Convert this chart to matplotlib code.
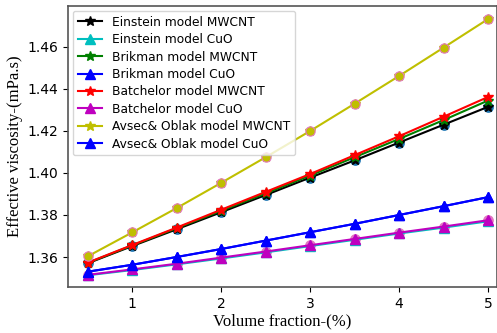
import numpy as np
import matplotlib.pyplot as plt

# volume fraction (%)
phi = [0.5, 1.0, 1.5, 2.0, 2.5, 3.0, 3.5, 4.0, 4.5, 5.0]

einstein_mwcnt = [1.3570, 1.3652, 1.3732, 1.3813, 1.3895, 1.3978, 1.4060, 1.4145, 1.4230, 1.4315]
einstein_cuo = [1.3513, 1.3538, 1.3565, 1.3593, 1.3622, 1.3652, 1.3682, 1.3712, 1.3740, 1.3770]
brinkman_mwcnt = [1.3572, 1.3655, 1.3737, 1.3820, 1.3903, 1.3988, 1.4075, 1.4162, 1.4252, 1.4345]
brinkman_cuo = [1.3530, 1.3563, 1.3600, 1.3638, 1.3678, 1.3718, 1.3758, 1.3800, 1.3842, 1.3885]
batchelor_mwcnt = [1.3573, 1.3657, 1.3740, 1.3825, 1.3910, 1.3995, 1.4085, 1.4175, 1.4268, 1.4362]
batchelor_cuo = [1.3515, 1.3541, 1.3568, 1.3597, 1.3626, 1.3656, 1.3686, 1.3716, 1.3745, 1.3775]
avsec_mwcnt = [1.3603, 1.3717, 1.3833, 1.3953, 1.4075, 1.4200, 1.4330, 1.4462, 1.4597, 1.4733]
avsec_cuo = [1.3530, 1.3563, 1.3600, 1.3638, 1.3678, 1.3718, 1.3758, 1.3800, 1.3842, 1.3885]

fig = plt.figure(figsize=(4.97, 3.33), dpi=100)
ax = fig.add_axes([0.137, 0.138, 0.863, 0.844])

# data points under the model curves
ax.scatter(phi, einstein_mwcnt, s=45, c='tab:blue', zorder=1)
ax.scatter(phi, batchelor_cuo, s=45, c='tab:pink', zorder=1)

ax.plot(phi, einstein_mwcnt, 'k-*', ms=7, label='Einstein model MWCNT', zorder=2)
ax.plot(phi, einstein_cuo, 'c-^', ms=7, label='Einstein model CuO', zorder=2)
ax.plot(phi, brinkman_mwcnt, 'g-*', ms=7, label='Brikman model MWCNT', zorder=2)
ax.plot(phi, brinkman_cuo, 'b-^', ms=7, label='Brikman model CuO', zorder=2)
ax.plot(phi, batchelor_mwcnt, 'r-*', ms=7, label='Batchelor model MWCNT', zorder=3)
ax.plot(phi, batchelor_cuo, 'm-^', ms=7, label='Batchelor model CuO', zorder=3)
ax.plot(phi, avsec_mwcnt, 'y-*', ms=7, label='Avsec& Oblak model MWCNT', zorder=2)
ax.plot(phi, avsec_cuo, 'b-^', ms=7, label='Avsec& Oblak model CuO', zorder=3)
ax.scatter(phi, avsec_mwcnt, s=45, c='y', edgecolors='tab:pink', linewidths=0.8, zorder=4)

ax.set_xlim(0.28, 5.1)
ax.set_ylim(1.3457, 1.4795)
ax.set_xticks([1, 2, 3, 4, 5])
ax.set_yticks([1.36, 1.38, 1.40, 1.42, 1.44, 1.46])
ax.tick_params(labelsize=10)
for s in ax.spines.values():
    s.set_color('#555555')
    s.set_linewidth(1.2)

ax.set_xlabel('Volume fraction-(%)', family='Liberation Serif', fontsize=12, labelpad=2)
ax.set_ylabel('Effective viscosity-(mPa.s)', family='Liberation Serif', fontsize=12, labelpad=3)

ax.legend(loc='upper left', fontsize=8.8, borderaxespad=0.4, handlelength=2.0,
          labelspacing=0.36)

fig.savefig('out.png', dpi=100)
